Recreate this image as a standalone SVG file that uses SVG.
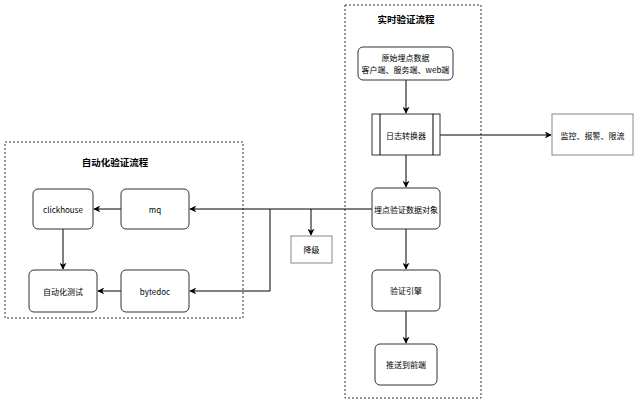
<svg xmlns="http://www.w3.org/2000/svg" width="640" height="407" viewBox="0 0 640 407">
<defs>
<marker id="ah" viewBox="0 0 10 10" refX="9" refY="5" markerWidth="7" markerHeight="7" markerUnits="userSpaceOnUse" orient="auto">
<path d="M0,0 L10,5 L0,10 L3,5 Z" fill="#000"/>
</marker>
</defs>
<style>
text{font-family:"Noto Sans CJK SC","Liberation Sans",sans-serif;font-size:8px;fill:#000;text-anchor:middle;dominant-baseline:central}
.title{font-size:9.5px;font-weight:bold}
.cont{fill:none;stroke:#333;stroke-width:1;stroke-dasharray:2,2}
.rn{fill:#fff;stroke:#333;stroke-width:1}
.sq{fill:#fff;stroke:#888;stroke-width:1}
.ln{fill:none;stroke:#000;stroke-width:1}
</style>
<rect width="640" height="407" fill="#fff"/>
<g id="containers">
<rect class="cont" x="345" y="5" width="136" height="393"/>
<text class="title" x="406" y="19">实时验证流程</text>
<rect class="cont" x="5" y="142" width="238" height="176"/>
<text class="title" x="115" y="162">自动化验证流程</text>
</g>
<g id="connectors">
<path class="ln" d="M406,80 V113" marker-end="url(#ah)"/>
<path class="ln" d="M440,135 H551" marker-end="url(#ah)"/>
<path class="ln" d="M406,155 V187" marker-end="url(#ah)"/>
<path class="ln" d="M406,229 V269" marker-end="url(#ah)"/>
<path class="ln" d="M406,311 V343" marker-end="url(#ah)"/>
<path class="ln" d="M372,209 H190" marker-end="url(#ah)"/>
<path class="ln" d="M311,209 V235" marker-end="url(#ah)"/>
<path class="ln" d="M270,209 V291 H190" marker-end="url(#ah)"/>
<path class="ln" d="M121,209 H94" marker-end="url(#ah)"/>
<path class="ln" d="M121,291 H98" marker-end="url(#ah)"/>
<path class="ln" d="M63,229 V269" marker-end="url(#ah)"/>
</g>
<g id="n-raw">
<rect class="rn" x="358" y="47" width="95" height="33" rx="5"/>
<text x="405.5" y="57">原始埋点数据</text>
<text x="405.5" y="69">客户端、服务端、web端</text>
</g>
<g id="n-log">
<rect class="rn" x="372" y="114" width="68" height="41"/>
<path class="ln" d="M380,114 V155 M433,114 V155" stroke="#333"/>
<text x="406" y="135">日志转换器</text>
</g>
<g id="n-monitor">
<rect class="sq" x="552" y="114" width="81" height="41"/>
<text x="592.5" y="135">监控、报警、限流</text>
</g>
<g id="n-obj">
<rect class="rn" x="372" y="188" width="68" height="41" rx="5"/>
<text x="406" y="209">埋点验证数据对象</text>
</g>
<g id="n-engine">
<rect class="rn" x="372" y="270" width="68" height="41" rx="5"/>
<text x="406" y="290.5">验证引擎</text>
</g>
<g id="n-push">
<rect class="rn" x="375" y="344" width="62" height="41" rx="5"/>
<text x="406" y="364.5">推送到前端</text>
</g>
<g id="n-degrade">
<rect class="sq" x="291" y="236" width="41" height="27"/>
<text x="311.5" y="249.5">降级</text>
</g>
<g id="n-mq">
<rect class="rn" x="121" y="189" width="68" height="40" rx="5"/>
<text x="155" y="209">mq</text>
</g>
<g id="n-clickhouse">
<rect class="rn" x="33" y="189" width="60" height="40" rx="5"/>
<text x="63" y="209">clickhouse</text>
</g>
<g id="n-bytedoc">
<rect class="rn" x="121" y="270" width="68" height="42" rx="5"/>
<text x="155" y="291">bytedoc</text>
</g>
<g id="n-autotest">
<rect class="rn" x="29" y="270" width="68" height="42" rx="5"/>
<text x="63" y="291">自动化测试</text>
</g>
</svg>
